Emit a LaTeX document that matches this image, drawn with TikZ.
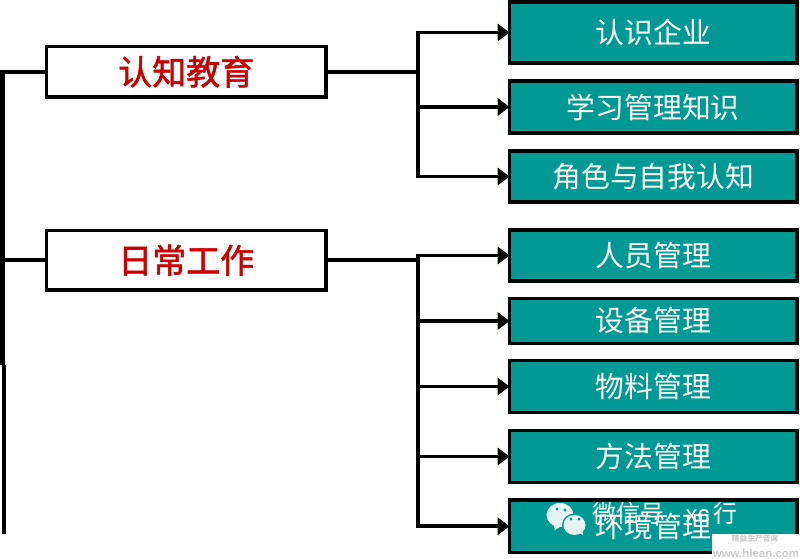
\documentclass[tikz,border=0pt]{standalone}
\usepackage{fontspec}
\setmainfont{Noto Sans CJK SC}
\newfontfamily\latinfont{Liberation Sans}
\newfontfamily\boldcjk[FakeBold=1.6]{Noto Sans CJK SC}
\usetikzlibrary{arrows.meta,calc}
\definecolor{teal1}{RGB}{0,153,148}
\definecolor{red1}{RGB}{204,0,0}
\definecolor{wmfill}{RGB}{228,245,243}
\tikzset{
  x=0.75pt,y=-0.75pt,
  topbox/.style={draw=black,line width=2.6pt,fill=white,text=red1,font=\fontsize{25.5}{30}\boldcjk,anchor=north west,inner sep=0pt,outer sep=0pt},
  subbox/.style={draw=black,line width=2.7pt,fill=teal1,text=white,font=\fontsize{21.6}{25}\selectfont,anchor=north west,inner sep=0pt,outer sep=0pt},
  conn/.style={draw=black,line width=2.9pt},
  arr/.style={conn,-{Triangle[length=9pt,width=13pt]}},
}
\newcommand{\tbox}[6]{\node[#1,minimum width=#4*0.75pt,minimum height=#5*0.75pt] (#2) at (#3) {#6};}
\begin{document}
\begin{tikzpicture}
\useasboundingbox (0,0) rectangle (800,559);
% top-level boxes
\tbox{topbox}{a}{46.5,46.5}{279.5}{50.5}{认知教育}
\tbox{topbox}{b}{46.5,230.5}{279.5}{59.5}{日常工作}
% sub boxes
\tbox{subbox}{s1}{509.5,2}{287.5}{61}{认识企业}
\tbox{subbox}{s2}{509.5,81}{287.5}{52}{学习管理知识}
\tbox{subbox}{s3}{509.5,151}{287.5}{51}{角色与自我认知}
\tbox{subbox}{s4}{509.5,230}{287.5}{51}{人员管理}
\tbox{subbox}{s5}{509.5,298.5}{287.5}{45}{设备管理}
\tbox{subbox}{s6}{509.5,360.5}{287.5}{52}{物料管理}
\tbox{subbox}{s7}{509.5,430.5}{287.5}{52}{方法管理}
\tbox{subbox}{s8}{509.5,500}{287.5}{52.5}{环境管理}
% trunk
\coordinate (tx) at (3,0);
\coordinate (jx) at (418,0);
\coordinate (t0) at (a.west -| tx);
\coordinate (tb) at (b.west -| tx);
\fill[black] (0,70) rectangle (5.2,365);
\fill[black] (2.3,365) rectangle (5.7,534);
\draw[conn] (t0) -- (a.west);
\draw[conn] (tb) -- (b.west);
% first branch
\coordinate (j1) at (a.east -| jx);
\draw[conn] (a.east) -- (j1);
\draw[arr] (j1) |- (s1.west);
\draw[arr] (j1) |- (s2.west);
\draw[arr] (j1) |- (s3.west);
% second branch
\coordinate (j2) at (b.east -| jx);
\draw[conn] (b.east) -- (j2);
\draw[arr] (j2) |- (s4.west);
\draw[arr] (j2) |- (s5.west);
\draw[arr] (j2) |- (s6.west);
\draw[arr] (j2) |- (s7.west);
\draw[arr] (j2) |- (s8.west);
% watermark
\fill[wmfill] (560,515) ellipse [x radius=13.5, y radius=12];
\fill[wmfill] (553,523) -- (555,530) -- (563,525) -- cycle;
\fill[teal1] (574.5,525) ellipse [x radius=12.5, y radius=11.5];
\fill[wmfill] (574.5,525) ellipse [x radius=11, y radius=10];
\fill[wmfill] (578,532) -- (583,535) -- (582,528) -- cycle;
\fill[teal1] (557,509) circle (1.6) (565,510) circle (1.6) (571,519) circle (1.6) (579,519) circle (1.6);
\node[text=white,font=\fontsize{18}{22}\selectfont,inner sep=0pt,anchor=west] (wm) at (592,513) {微信号\hspace{16pt}{\latinfont xc}\hspace{3pt}行};
\fill[white] (712,534) rectangle (800,559);
\node[text=black!20,font=\fontsize{5.8}{7}\selectfont\bfseries,inner sep=0pt] (wm1) at (755,539) {精益生产咨询};
\node[text=black!20,font=\latinfont\fontsize{8.6}{10}\selectfont\bfseries,inner sep=0pt] (wm2) at (756,553) {www.hlean.com};
\end{tikzpicture}
\end{document}
